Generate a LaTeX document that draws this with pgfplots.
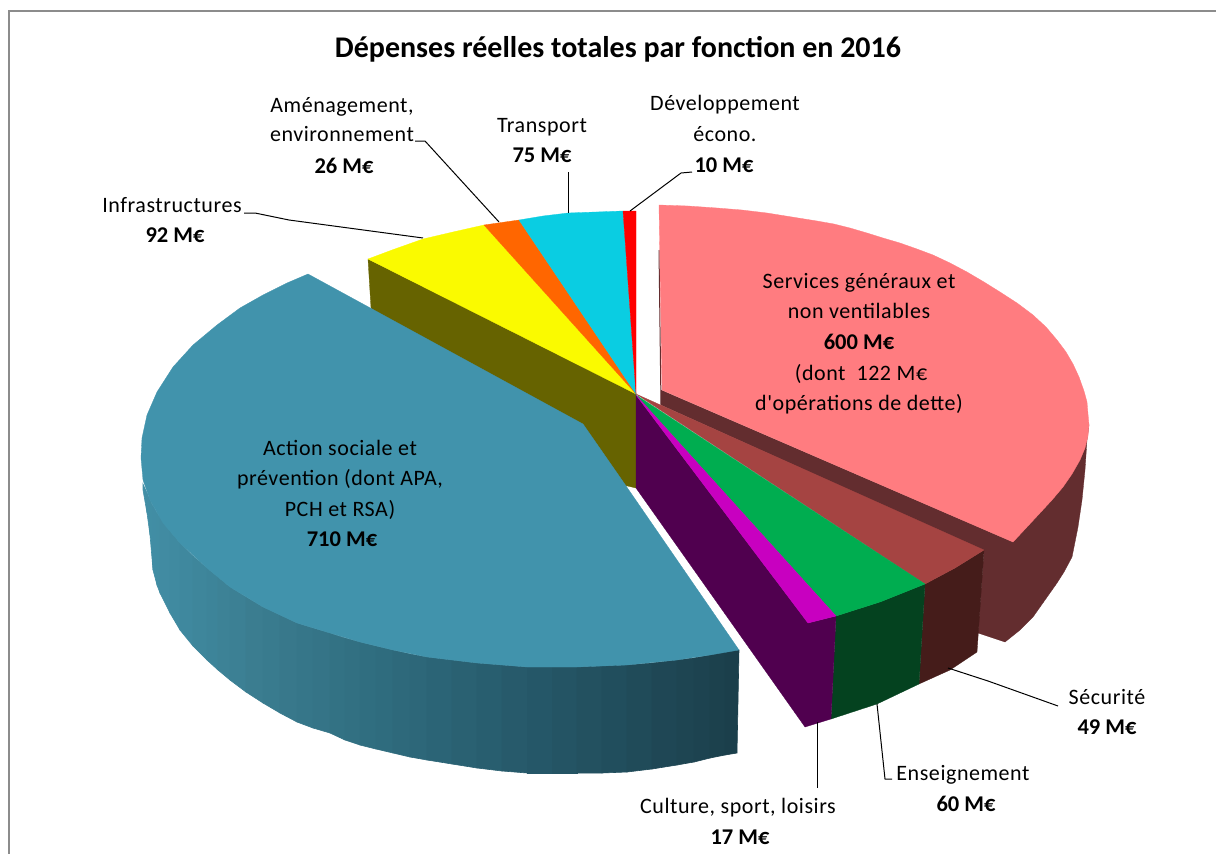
\documentclass[border=0pt]{standalone}
\usepackage{pgfplots}
\pgfplotsset{compat=1.18}
\usepackage{fontspec}
\setmainfont{Carlito}
\newfontfamily\labfont[LetterSpace=2.5]{Carlito}

\definecolor{cPink}{HTML}{FF7C80}
\definecolor{cPinkD}{HTML}{632D2F}
\definecolor{cBrick}{HTML}{A54442}
\definecolor{cBrickD}{HTML}{451C1A}
\definecolor{cGreen}{HTML}{00AD50}
\definecolor{cGreenD}{HTML}{04421F}
\definecolor{cMag}{HTML}{C800C0}
\definecolor{cPurple}{HTML}{50004F}
\definecolor{cTeal}{HTML}{4193AC}
\definecolor{cOlive}{HTML}{666300}
\definecolor{cYellow}{HTML}{FAFA00}
\definecolor{cOrange}{HTML}{FF6600}
\definecolor{cCyan}{HTML}{0ACDE2}
\definecolor{cRed}{HTML}{FF0000}
\definecolor{cFrame}{HTML}{8C8C8C}

\pgfplotsset{
  slice/.style={fill=#1, draw=#1, line width=0.3pt, no marks},
  leader/.style={black, line width=1pt, no marks},
}
\tikzset{
  lab/.style={anchor=base, inner sep=0pt, font=\labfont\fontsize{22}{26}\selectfont, text=black},
  val/.style={anchor=base, inner sep=0pt, font=\fontsize{22.5}{26}\selectfont\bfseries, text=black},
}

\begin{document}
\begin{tikzpicture}
\begin{axis}[
  at={(0,0)}, anchor=south west,
  width=1216pt, height=854pt,
  scale only axis,
  axis lines=none,
  xmin=0, xmax=1216,
  ymin=0, ymax=854,
  y dir=reverse,
  colormap={wall}{rgb255(0)=(66,143,166); rgb255(20)=(58,124,143); rgb255(40)=(47,108,126); rgb255(64)=(38,89,106); rgb255(100)=(27,62,74)},
]

% frame
\addplot[cFrame, line width=1.4pt, no marks] coordinates {(9,854) (9,11) (1216,11)};

% services generaux: walls under everything
\addplot[slice=cPinkD] coordinates {
  (1089,425) (1087,440) (1085,470) (1082,500) (1078,527) (1072,557) (1064,572) (1057,583)
  (1045,600) (1033,617) (1020,630) (1005,642) (978,633)
  (984,551) (661,405) (661,390) (1013,542)
} --cycle;
\addplot[cPinkD, line width=1pt, no marks] coordinates {(659,250) (661,405)};
\addplot[slice=cPink] coordinates {
  (659,205) (688,206) (717,208) (742,210) (767,213) (792,217) (817,221) (834,224) (850,228)
  (867,233) (883,238) (900,243) (917,249) (933,255) (950,263) (967,272) (984,282) (1000,292)
  (1017,303) (1033,315) (1046,327) (1057,340) (1066,352) (1073,364) (1079,377) (1084,391)
  (1087,402) (1088,414) (1089,425) (1088,436) (1085,448) (1080,460) (1072,474) (1063,487)
  (1052,500) (1040,513) (1027,527) (1013,542) (662,390)
} --cycle;

% back slices
\addplot[slice=cOlive] coordinates {(368,259) (636,393) (636,488) (560,470) (371,308)} --cycle;
\addplot[slice=cYellow] coordinates {(636,394) (368,259) (392,250) (423,239) (453,232) (484,225)} --cycle;
\addplot[slice=cOrange] coordinates {(636,394) (484,225) (519,220)} --cycle;
\addplot[slice=cCyan] coordinates {(636,394) (519,220) (543,216) (568,213) (596,212) (623,211)} --cycle;
\addplot[slice=cRed] coordinates {(636,394) (623,211) (636,211)} --cycle;

% front walls
\addplot[slice=cBrickD] coordinates {(984,550) (955,568) (925,584) (919,684) (950,670) (977,652)} --cycle;
\addplot[slice=cGreenD] coordinates {(925,584) (880,602) (836,616) (831,719) (877,704) (919,684)} --cycle;
\addplot[slice=cPurple] coordinates {(636,395) (808,623) (836,616) (831,719) (805,727) (636,488)} --cycle;

% front tops
\addplot[slice=cBrick] coordinates {(636,394) (984,550) (955,568) (925,584)} --cycle;
\addplot[slice=cGreen] coordinates {(636,395) (925,584) (880,602) (836,616)} --cycle;
\addplot[slice=cMag] coordinates {(636,395) (836,616) (808,623)} --cycle;

% action sociale: wall shaded along x, then top
\addplot[surf, shader=faceted, faceted color=mapped color, line width=0.6pt, mesh/cols=2, point meta=x] coordinates {
  (143,484) (143,490)
  (147,493) (147,513)
  (150,500) (150,535)
  (153,506) (153,570)
  (157,513) (157,585)
  (160,517) (160,593)
  (170,531) (170,613)
  (180,543) (180,630)
  (193,556) (193,646)
  (207,568) (207,660)
  (218,577) (218,670)
  (230,587) (230,680)
  (246,597) (246,692)
  (263,607) (263,703)
  (280,615) (280,713)
  (297,623) (297,722)
  (313,628) (313,728)
  (330,633) (330,733)
  (345,638) (345,740)
  (360,642) (360,745)
  (376,646) (376,749)
  (393,650) (393,753)
  (410,654) (410,757)
  (427,657) (427,760)
  (452,660) (452,764)
  (477,663) (477,768)
  (502,665) (502,771)
  (527,667) (527,773)
  (552,667) (552,773)
  (577,667) (577,773)
  (602,666) (602,773)
  (627,665) (627,772)
  (652,663) (652,769)
  (677,660) (677,765)
  (694,658) (694,762)
  (710,655) (710,758)
  (725,652) (725,755)
  (739,650) (737,753)
};
\addplot[slice=cTeal] coordinates {
  (308,274) (287,283) (263,295) (240,308) (217,325) (193,345) (173,367) (157,392) (147,415)
  (142,438) (141,458) (143,480) (150,500) (163,523) (180,543) (207,568) (230,587) (263,607)
  (297,623) (330,633) (360,642) (393,650) (427,657) (477,663) (527,667) (577,667) (627,665)
  (677,660) (710,655) (739,650) (624,483) (583,424)
} --cycle;

% leader lines
\addplot[leader] coordinates {(244,213) (255,213) (289,220) (423,238)};
\addplot[leader] coordinates {(415,141) (425,141) (499,222)};
\addplot[leader] coordinates {(568,172) (568,213)};
\addplot[leader] coordinates {(630,211) (681,173) (692,172)};
\addplot[leader] coordinates {(948,668) (988,681) (1058,706)};
\addplot[leader] coordinates {(877,704) (885,779) (892,779)};
\addplot[leader] coordinates {(817,722) (817,788)};

% title
\node[val, font=\fontsize{30}{34}\selectfont\bfseries] at (axis cs:618,57) {Dépenses réelles totales par fonction en 2016};

% labels
\node[lab] at (axis cs:342,112) {Aménagement,};
\node[lab] at (axis cs:342,141) {environnement};
\node[val] at (axis cs:344,173) {26 M€};
\node[lab] at (axis cs:542,132) {Transport};
\node[val] at (axis cs:542,162) {75 M€};
\node[lab] at (axis cs:725,110) {Développement};
\node[lab] at (axis cs:725,141) {écono.};
\node[val] at (axis cs:724,172) {10 M€};
\node[lab] at (axis cs:172,212) {Infrastructures};
\node[val] at (axis cs:175,242) {92 M€};
\node[lab] at (axis cs:859,288) {Services généraux et};
\node[lab] at (axis cs:859,318) {non ventilables};
\node[val] at (axis cs:859,349) {600 M€};
\node[lab] at (axis cs:861,380) {(dont\ \ 122 M€};
\node[lab] at (axis cs:859,410) {d'opérations de dette)};
\node[lab] at (axis cs:340,455) {Action sociale et};
\node[lab] at (axis cs:340,485) {prévention (dont APA,};
\node[lab] at (axis cs:340,516) {PCH et RSA)};
\node[val] at (axis cs:342,546) {710 M€};
\node[lab] at (axis cs:1107,704) {Sécurité};
\node[val] at (axis cs:1107,734) {49 M€};
\node[lab] at (axis cs:963,780) {Enseignement};
\node[val] at (axis cs:966,811) {60 M€};
\node[lab] at (axis cs:738,813) {Culture, sport, loisirs};
\node[val] at (axis cs:740,844) {17 M€};

\end{axis}
\path (0,0) rectangle (1216pt,854pt);
\end{tikzpicture}
\end{document}
